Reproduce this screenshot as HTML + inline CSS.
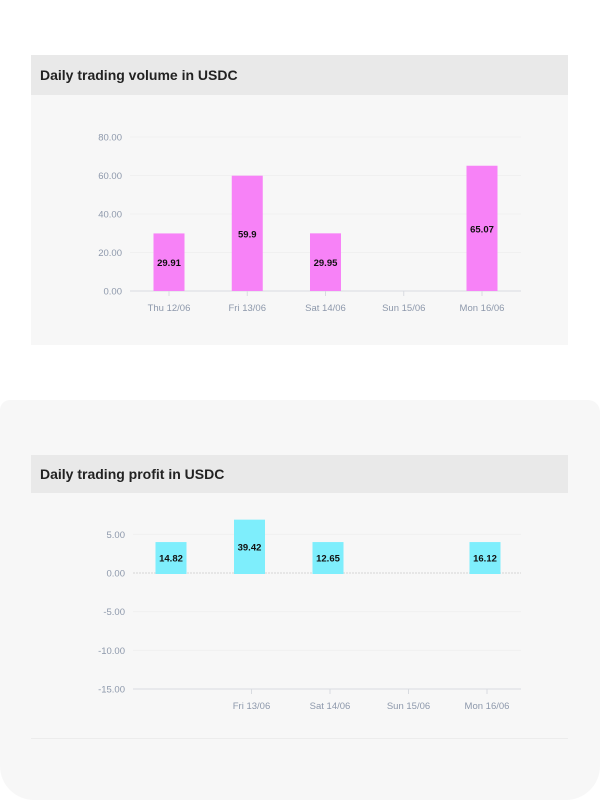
<!DOCTYPE html>
<html><head><meta charset="utf-8"><style>
html,body{margin:0;padding:0;background:#fff;width:600px;height:800px;overflow:hidden;font-family:"Liberation Sans",sans-serif}
.panel{position:absolute;left:0;top:400px;width:600px;height:400px;background:#f7f7f7;border-radius:10px 12px 34px 34px}
.card{position:absolute;left:31px;width:537px;background:#f7f7f7}
.hdr{height:40px;background:#e9e9e9;color:#222;font-size:14px;font-weight:bold;line-height:40px;padding-left:9px}
svg{position:absolute;left:0;top:0}
</style></head><body>
<div class="panel"></div>
<div class="card" style="top:55px;height:290px">
 <div class="hdr">Daily trading volume in USDC</div>
</div>
<div class="card" style="top:455px;height:283px;border-bottom:1px solid #ececec">
 <div class="hdr" style="height:38px;line-height:38px">Daily trading profit in USDC</div>
</div>
<svg id="chart" width="600" height="800"></svg>
<script>
const volCategories=["Thu 12/06","Fri 13/06","Sat 14/06","Sun 15/06","Mon 16/06"];
const volValues=[29.91,59.9,29.95,0,65.07];
const volTicks=[0,20,40,60,80];
const profitCategories=["Thu 12/06","Fri 13/06","Sat 14/06","Sun 15/06","Mon 16/06"];
const profitValues=[14.82,39.42,12.65,0,16.12];
const profitBarHeights=[4.0,6.9,4.0,0,4.0];
const profitTicks=[5,0,-5,-10,-15];
const NS="http://www.w3.org/2000/svg";
const svg=document.getElementById('chart');
function mk(t,a,txt){const e=document.createElementNS(NS,t);for(const k in a)e.setAttribute(k,a[k]);if(txt!==undefined)e.textContent=txt;svg.appendChild(e);return e;}
// volume chart
const vx=i=>169+i*78.25, vy=v=>291-v*(154/80);
volTicks.forEach(t=>{
 const g=mk('line',{x1:130,x2:521,y1:vy(t),y2:vy(t),stroke:t===0?'#d8dbe0':'#f0f0f0','stroke-width':1});
 
 const l=mk('text',{x:122,y:vy(t)+3.5,'text-anchor':'end','font-size':9.5,fill:'#8d98ab'},t.toFixed(2));
 
});
volCategories.forEach((c,i)=>{
 const tk=mk('line',{x1:vx(i),x2:vx(i),y1:291,y2:296,stroke:'#d8dbe0'});
 
 const l=mk('text',{x:vx(i),y:311,'text-anchor':'middle','font-size':9.5,fill:'#8d98ab'},c);
 
 const v=volValues[i];
 if(v>0){
  const b=mk('rect',{x:vx(i)-15.5,y:vy(v),width:31,height:291-vy(v),fill:'#f782f7'});
  
  const t=mk('text',{x:vx(i),y:(vy(v)+291)/2+4,'text-anchor':'middle','font-size':9.5,'font-weight':'bold',fill:'#111'},String(v));
  
 }
});
// profit chart
const px=i=>171+i*78.5, py=v=>573-v*(116/15);
profitTicks.forEach(t=>{
 const g=mk('line',{x1:133,x2:521,y1:py(t),y2:py(t),stroke:t===-15?'#d8dbe0':(t===0?'#d5d5d5':'#f0f0f0'),'stroke-width':1,'stroke-dasharray':t===0?'2,1':'none'});
 
 const l=mk('text',{x:125,y:py(t)+3.5,'text-anchor':'end','font-size':9.5,fill:'#8d98ab'},t.toFixed(2));
 
});
profitCategories.forEach((c,i)=>{
 if(i>0){
  const tk=mk('line',{x1:px(i)+2,x2:px(i)+2,y1:689,y2:694,stroke:'#d8dbe0'});
  
  const l=mk('text',{x:px(i)+2,y:709,'text-anchor':'middle','font-size':9.5,fill:'#8d98ab'},c);
  
 }
 const h=profitBarHeights[i];
 if(profitValues[i]!==0){
  const b=mk('rect',{x:px(i)-15.5,y:py(h),width:31,height:py(0)-py(h)+1,fill:'#7eeefc'});
  
  const t=mk('text',{x:px(i),y:(py(h)+573)/2+4,'text-anchor':'middle','font-size':9.5,'font-weight':'bold',fill:'#111'},profitValues[i].toFixed(2));
  
 }
});
</script>
</body></html>
